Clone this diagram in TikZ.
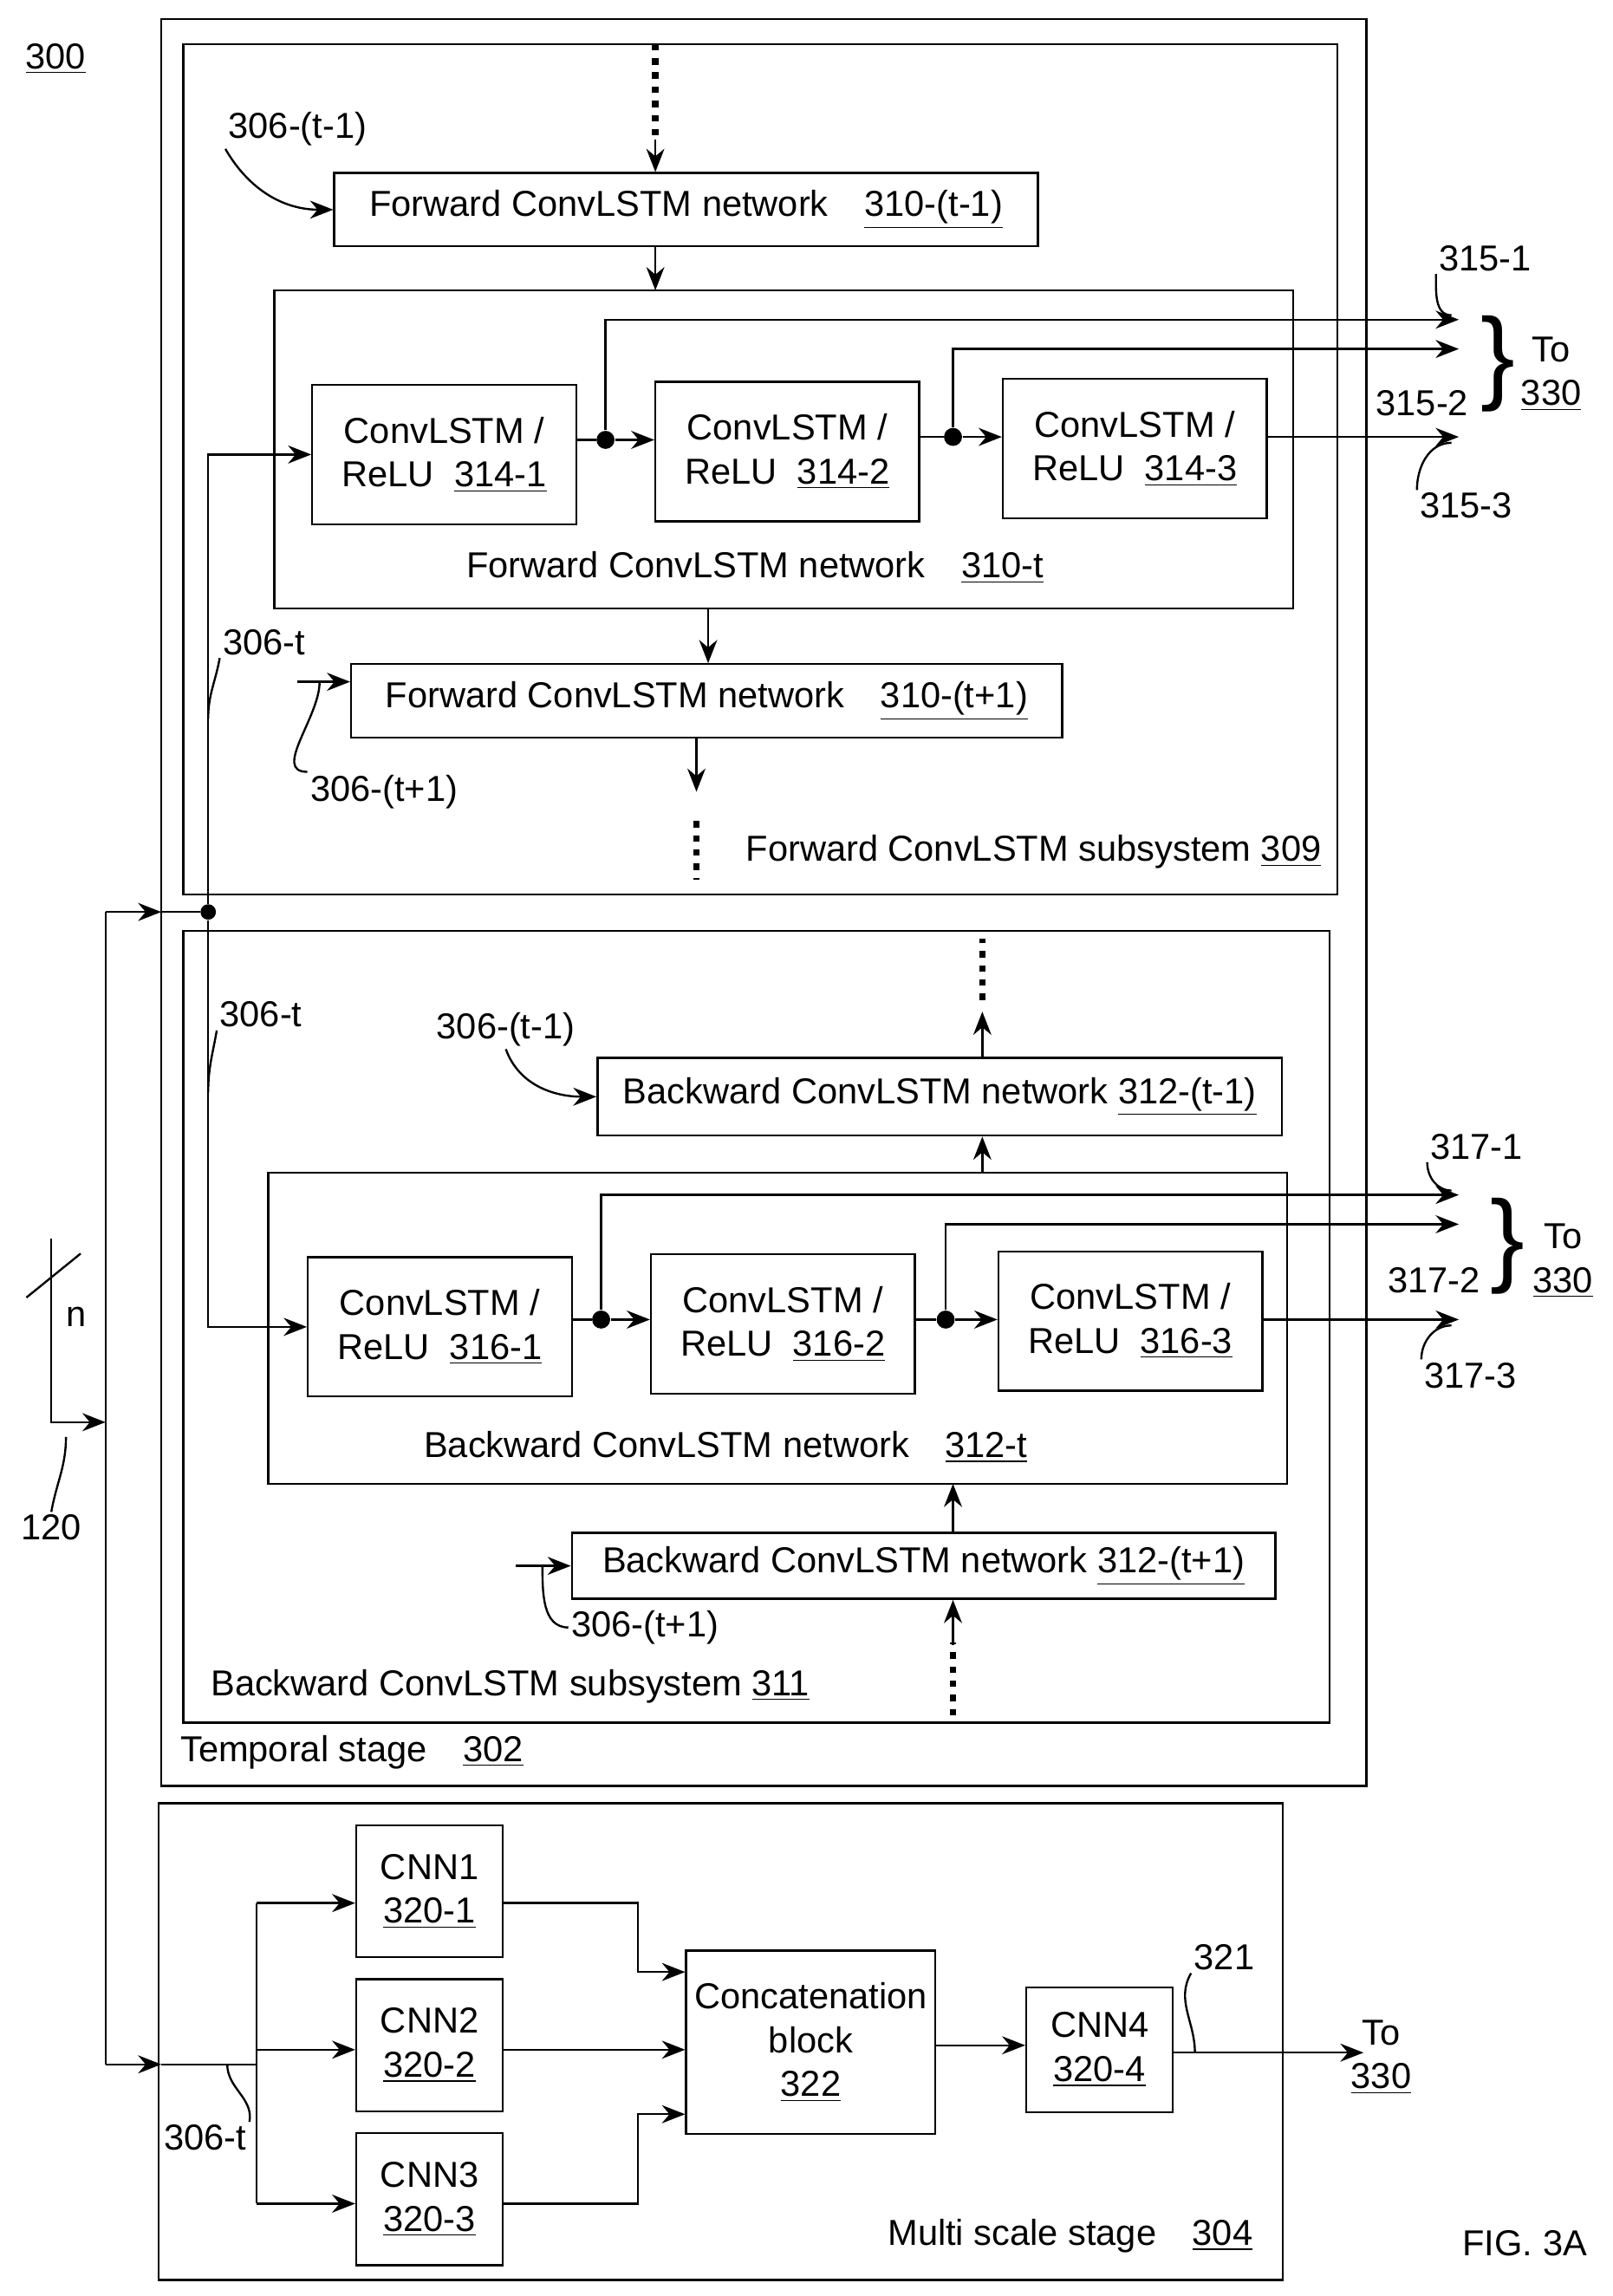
\documentclass[tikz,border=0pt]{standalone}
\usepackage{fontspec}
\setmainfont{Liberation Sans}
\usetikzlibrary{arrows.meta,positioning}
\tikzset{
  blk/.style={draw,thick,fill=white,align=center,inner sep=0pt},
  lbl/.style={inner sep=1pt,align=center},
  ln/.style={thick},
  arr/.style={thick,-{Stealth[length=9pt,width=7pt]}},
  dots/.style={line width=2.5pt,dash pattern=on 2.5pt off 3pt},
  jn/.style={circle,fill,inner sep=0pt,minimum size=7pt},
}
\newcommand{\ul}[1]{\underline{#1}}
\begin{document}
\begin{tikzpicture}[x=0.2mm,y=-0.2mm,font=\fontsize{14}{17}\selectfont]
\useasboundingbox (0,0) rectangle (1100,1566);
\node[lbl] (fig) at (38,40) {\ul{300}};
% stage boxes
\draw[ln] (110,13) rectangle (932,1218);
\draw[ln] (125,30) rectangle (912,610);
\draw[ln] (125,635) rectangle (907,1175);
\draw[ln] (108,1230) rectangle (875,1555);
% forward subsystem
\node[blk,minimum width=96mm,minimum height=10mm] (f0) at (468,143) {Forward ConvLSTM network\quad\ul{310-(t-1)}};
\draw[ln] (187,198) rectangle (882,415);
\node[blk,minimum width=36mm,minimum height=19mm] (f1) at (303,310) {ConvLSTM /\\ReLU\ \ \ul{314-1}};
\node[blk,minimum width=36mm,minimum height=19mm] (f2) at (537,308) {ConvLSTM /\\ReLU\ \ \ul{314-2}};
\node[blk,minimum width=36mm,minimum height=19mm] (f3) at (774,306) {ConvLSTM /\\ReLU\ \ \ul{314-3}};
\node[lbl] (ft) at (515,387) {Forward ConvLSTM network\quad\ul{310-t}};
\node[blk,minimum width=97mm,minimum height=10mm] (f2n) at (482,478) {Forward ConvLSTM network\quad\ul{310-(t+1)}};
\node[lbl] (fs) at (705,581) {Forward ConvLSTM subsystem \ul{309}};
\coordinate (ftop) at (447,30);
\draw[dots] (ftop) -- (447,95);
\draw[arr] (447,95) -- (f0.north -| ftop);
\draw[arr] (f0.south -| ftop) -- (447,198);
\draw[arr] (483,415) -- (f2n.north -| 483,0);
\draw[arr] (f2n.south -| 475,0) -- (475,540);
\draw[dots] (475,560) -- (475,600);
% forward taps
\node[jn] (fd1) at (413,300) {};
\node[jn] (fd2) at (650,298) {};
\draw[ln] (f1.east |- fd1) -- (fd1);
\draw[arr] (fd1) -- (f2.west |- fd1);
\draw[ln] (f2.east |- fd2) -- (fd2);
\draw[arr] (fd2) -- (f3.west |- fd2);
\coordinate (fo1) at (995,218);
\coordinate (fo2) at (995,238);
\coordinate (fo3) at (995,298);
\draw[arr] (fd1) |- (fo1);
\draw[arr] (fd2) |- (fo2);
\draw[arr] (f3.east |- fo3) -- (fo3);
\node[lbl] (l3151) at (1013,176) {315-1};
\node[lbl] (l3152) at (970,275) {315-2};
\node[lbl] (l3153) at (1000,345) {315-3};
\draw[ln] (l3151.south west) to[out=-90,in=180] (990,215);
\draw[ln] (l3153.north west) to[out=90,in=180] (990,302);
\node[lbl,font=\fontsize{40}{40}\selectfont] (fbr) at (1022,248) {\}};
\node[lbl] (fto) at (1058,255) {To\\\ul{330}};
% forward inputs
\node[lbl] (l3060) at (203,88) {306-(t-1)};
\draw[arr] (l3060.south west) to[out=-60,in=180] (f0.west);
\node[lbl] (l306t) at (180,438) {306-t};
\draw[ln] (l306t.south west) to[out=-100,in=90] (142,490);
\node[lbl] (l3062) at (262,540) {306-(t+1)};
\draw[arr] (203,465) -- (f2n.west |- 0,465);
\draw[ln] (218,465) to[out=-90,in=180] (l3062.north west);
% backward subsystem
\node[blk,minimum width=93.4mm,minimum height=10.6mm] (b0) at (641,748) {Backward ConvLSTM network \ul{312-(t-1)}};
\draw[ln] (183,800) rectangle (878,1012);
\node[blk,minimum width=36mm,minimum height=19mm] (b1) at (300,905) {ConvLSTM /\\ReLU\ \ \ul{316-1}};
\node[blk,minimum width=36mm,minimum height=19mm] (b2) at (534,903) {ConvLSTM /\\ReLU\ \ \ul{316-2}};
\node[blk,minimum width=36mm,minimum height=19mm] (b3) at (771,901) {ConvLSTM /\\ReLU\ \ \ul{316-3}};
\node[lbl] (bt) at (495,987) {Backward ConvLSTM network\quad\ul{312-t}};
\node[blk,minimum width=96mm,minimum height=9mm] (b2n) at (630,1068) {Backward ConvLSTM network \ul{312-(t+1)}};
\node[lbl] (bs) at (348,1150) {Backward ConvLSTM subsystem \ul{311}};
\node[lbl] (ts) at (240,1195) {Temporal stage\quad\ul{302}};
\draw[arr] (b0.north -| 670,0) -- (670,690);
\draw[dots] (670,682) -- (670,640);
\draw[arr] (670,800) -- (b0.south -| 670,0);
\draw[arr] (b2n.north -| 650,0) -- (650,1012);
\draw[dots] (650,1170) -- (650,1120);
\draw[arr] (650,1122) -- (b2n.south -| 650,0);
\node[jn] (bd1) at (410,900) {};
\node[jn] (bd2) at (645,900) {};
\draw[ln] (b1.east |- bd1) -- (bd1);
\draw[arr] (bd1) -- (b2.west |- bd1);
\draw[ln] (b2.east |- bd2) -- (bd2);
\draw[arr] (bd2) -- (b3.west |- bd2);
\coordinate (bo1) at (995,815);
\coordinate (bo2) at (995,835);
\coordinate (bo3) at (995,900);
\draw[arr] (bd1) |- (bo1);
\draw[arr] (bd2) |- (bo2);
\draw[arr] (b3.east |- bo3) -- (bo3);
\node[lbl] (l3171) at (1007,782) {317-1};
\node[lbl] (l3172) at (978,873) {317-2};
\node[lbl] (l3173) at (1003,938) {317-3};
\draw[ln] (l3171.south west) to[out=-90,in=180] (990,812);
\draw[ln] (l3173.north west) to[out=90,in=180] (990,904);
\node[lbl,font=\fontsize{40}{40}\selectfont] (bbr) at (1028,850) {\}};
\node[lbl] (bto) at (1066,860) {To\\\ul{330}};
\node[lbl] (l3160) at (345,702) {306-(t-1)};
\draw[arr] (l3160.south) to[out=-70,in=180] (b0.west);
\node[lbl] (l316t) at (178,692) {306-t};
\draw[ln] (l316t.south west) to[out=-100,in=90] (142,745);
\node[lbl] (l3162) at (440,1110) {306-(t+1)};
\draw[arr] (352,1068) -- (b2n.west |- 0,1068);
\draw[ln] (370,1068) to[out=-90,in=180] (l3162.west);
% input bus
\node[jn,minimum size=6pt] (jb) at (142,622) {};
\coordinate (bus) at (72,622);
\coordinate (busb) at (72,1408);
\draw[arr] (bus) -- (110,622);
\draw[ln] (110,622) -- (jb);
\draw[ln] (bus) -- (busb);
\draw[arr] (jb) |- (f1.west);
\draw[arr] (jb) |- (b1.west);
\coordinate (inp) at (35,845);
\draw[arr] (inp) |- (72,970);
\draw[ln] (18,885) -- (55,855);
\node[lbl] (nlbl) at (52,898) {n};
\node[lbl] (l120) at (35,1042) {120};
\draw[ln] (l120.north) to[out=80,in=-90] (45,980);
% multi scale stage
\node[blk,minimum width=20mm,minimum height=18mm] (c1) at (293,1290) {CNN1\\\ul{320-1}};
\node[blk,minimum width=20mm,minimum height=18mm] (c2) at (293,1395) {CNN2\\\ul{320-2}};
\node[blk,minimum width=20mm,minimum height=18mm] (c3) at (293,1500) {CNN3\\\ul{320-3}};
\node[blk,minimum width=34mm,minimum height=25mm] (cat) at (553,1393) {Concatenation\\block\\\ul{322}};
\node[blk,minimum width=20mm,minimum height=17mm] (c4) at (750,1398) {CNN4\\\ul{320-4}};
\node[lbl] (ms) at (730,1525) {Multi scale stage\quad\ul{304}};
\node[lbl] (fig3) at (1040,1530) {FIG. 3A};
\coordinate (br) at (175,1408);
\draw[arr] (busb) -- (110,1408);
\draw[ln] (110,1408) -- (br);
\draw[ln] (175,1298) -- (175,1503);
\draw[arr] (175,1298) -- (c1.west |- 0,1298);
\draw[arr] (175,1398) -- (c2.west |- 0,1398);
\draw[arr] (175,1503) -- (c3.west |- 0,1503);
\draw[arr] (c1.east |- 0,1298) -| (435,1345) -- (cat.west |- 0,1345);
\draw[arr] (c2.east |- 0,1398) -- (cat.west |- 0,1398);
\draw[arr] (c3.east |- 0,1503) -| (435,1442) -- (cat.west |- 0,1442);
\draw[arr] (cat.east |- 0,1395) -- (c4.west |- 0,1395);
\coordinate (mo) at (930,1400);
\draw[arr] (c4.east |- mo) -- (mo);
\node[lbl] (mto) at (942,1403) {To\\\ul{330}};
\node[lbl] (l321) at (835,1335) {321};
\draw[ln] (l321.south west) to[out=-120,in=90] (815,1400);
\node[lbl] (l306m) at (140,1458) {306-t};
\draw[ln] (l306m.north east) to[out=80,in=-90] (155,1408);
\end{tikzpicture}
\end{document}
